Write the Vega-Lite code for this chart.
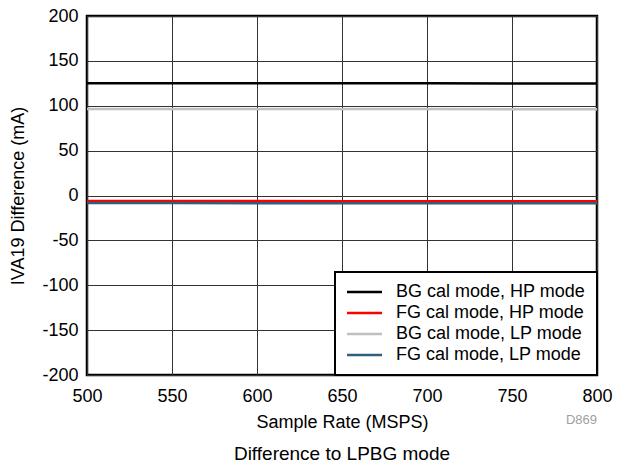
{
  "$schema": "https://vega.github.io/schema/vega-lite/v6.json",
  "width": 510,
  "height": 359,
  "autosize": {"type": "none"},
  "padding": {"left": 87, "top": 16, "right": 29, "bottom": 94},
  "background": "white",
  "title": {"text": "Difference to LPBG mode", "orient": "bottom", "anchor": "middle", "offset": 14, "font": "Liberation Sans", "fontSize": 19, "fontWeight": "normal", "color": "#000000"},
  "config": {
    "font": "Liberation Sans",
    "view": {"stroke": "#000000", "strokeWidth": 2.5},
    "axis": {"labelFont": "Liberation Sans", "titleFont": "Liberation Sans", "labelFontSize": 18, "titleFontSize": 18, "labelColor": "#000000", "titleColor": "#000000", "titleFontWeight": "normal", "gridColor": "#333333", "gridWidth": 1, "gridOpacity": 1, "domain": false, "ticks": false, "labelFlush": false, "labelOverlap": false}
  },
  "data": {"values": [
    {"rate": 500, "diff": 125.2, "series": "BG cal mode, HP mode"},
    {"rate": 550, "diff": 125.1, "series": "BG cal mode, HP mode"},
    {"rate": 600, "diff": 125.1, "series": "BG cal mode, HP mode"},
    {"rate": 650, "diff": 125.0, "series": "BG cal mode, HP mode"},
    {"rate": 700, "diff": 125.0, "series": "BG cal mode, HP mode"},
    {"rate": 750, "diff": 124.9, "series": "BG cal mode, HP mode"},
    {"rate": 800, "diff": 124.9, "series": "BG cal mode, HP mode"},
    {"rate": 500, "diff": -6.2, "series": "FG cal mode, HP mode"},
    {"rate": 550, "diff": -6.2, "series": "FG cal mode, HP mode"},
    {"rate": 600, "diff": -6.2, "series": "FG cal mode, HP mode"},
    {"rate": 650, "diff": -6.3, "series": "FG cal mode, HP mode"},
    {"rate": 700, "diff": -6.3, "series": "FG cal mode, HP mode"},
    {"rate": 750, "diff": -6.3, "series": "FG cal mode, HP mode"},
    {"rate": 800, "diff": -6.4, "series": "FG cal mode, HP mode"},
    {"rate": 500, "diff": 96.4, "series": "BG cal mode, LP mode"},
    {"rate": 550, "diff": 96.4, "series": "BG cal mode, LP mode"},
    {"rate": 600, "diff": 96.3, "series": "BG cal mode, LP mode"},
    {"rate": 650, "diff": 96.3, "series": "BG cal mode, LP mode"},
    {"rate": 700, "diff": 96.3, "series": "BG cal mode, LP mode"},
    {"rate": 750, "diff": 96.2, "series": "BG cal mode, LP mode"},
    {"rate": 800, "diff": 96.2, "series": "BG cal mode, LP mode"},
    {"rate": 500, "diff": -8.4, "series": "FG cal mode, LP mode"},
    {"rate": 550, "diff": -8.4, "series": "FG cal mode, LP mode"},
    {"rate": 600, "diff": -8.5, "series": "FG cal mode, LP mode"},
    {"rate": 650, "diff": -8.5, "series": "FG cal mode, LP mode"},
    {"rate": 700, "diff": -8.5, "series": "FG cal mode, LP mode"},
    {"rate": 750, "diff": -8.6, "series": "FG cal mode, LP mode"},
    {"rate": 800, "diff": -8.6, "series": "FG cal mode, LP mode"}
  ]},
  "layer": [
    {
      "mark": {"type": "line", "strokeWidth": 2.5},
      "encoding": {
        "x": {"field": "rate", "type": "quantitative", "scale": {"domain": [500, 800], "nice": false}, "axis": {"values": [500, 550, 600, 650, 700, 750, 800], "title": "Sample Rate (MSPS)", "labelPadding": 12, "titlePadding": 8}},
        "y": {"field": "diff", "type": "quantitative", "scale": {"domain": [-200, 200], "nice": false}, "axis": {"values": [-200, -150, -100, -50, 0, 50, 100, 150, 200], "labelExpr": "replace(datum.label, '\u2212', '-')", "title": "IVA19 Difference (mA)", "labelPadding": 9, "titlePadding": 14}},
        "color": {"field": "series", "type": "nominal",
          "scale": {"domain": ["BG cal mode, HP mode", "FG cal mode, HP mode", "BG cal mode, LP mode", "FG cal mode, LP mode"], "range": ["#000000", "#ff0000", "#c0c0c0", "#2f5f7c"]},
          "legend": {"title": null, "orient": "bottom-right", "offset": 0, "strokeColor": "#000000", "fillColor": "#ffffff", "padding": 11, "symbolType": "M-3.5,0H3.5", "symbolStrokeWidth": 2.5, "symbolSize": 100, "symbolOffset": 9.5, "labelFontSize": 18, "labelFont": "Liberation Sans", "labelColor": "#000000", "labelLimit": 400, "rowPadding": 3, "labelOffset": 22.5,
            "encode": {"legend": {"update": {"strokeWidth": {"value": 2}}}}}
        }
      }
    },
    {
      "data": {"values": [{"label": "D869"}]},
      "mark": {"type": "text", "align": "right", "baseline": "middle", "fontSize": 13, "color": "#a0a0a0", "clip": false},
      "encoding": {
        "x": {"datum": 800},
        "y": {"datum": -250},
        "text": {"field": "label"}
      }
    }
  ]
}
